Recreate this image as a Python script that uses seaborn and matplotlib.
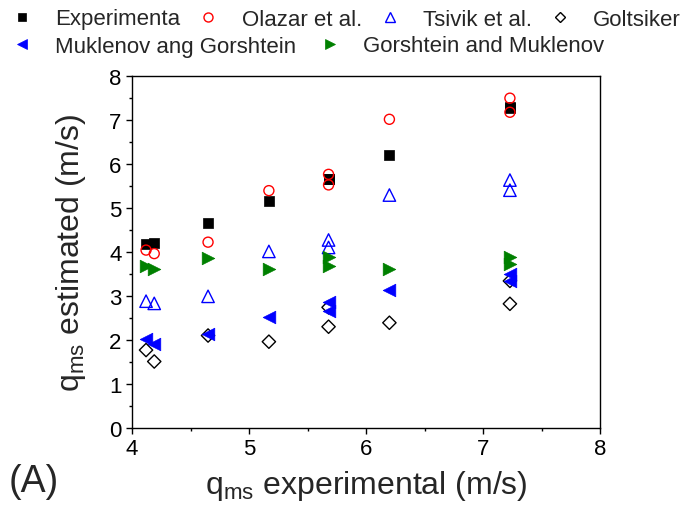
import matplotlib
matplotlib.use("Agg")
import matplotlib.pyplot as plt
from matplotlib.lines import Line2D
import seaborn as sns

# ---- data ----
x_experimental = [4.12, 4.19, 4.65, 5.17, 5.68, 5.68, 6.20, 7.23, 7.23]
experimenta = [4.17, 4.19, 4.65, 5.16, 5.65, 5.66, 6.20, 7.27, 7.30]
olazar = [4.04, 3.96, 4.22, 5.39, 5.76, 5.52, 7.01, 7.49, 7.17]
tsivik = [2.88, 2.83, 2.99, 4.01, 4.27, 4.10, 5.29, 5.63, 5.40]
goltsiker = [1.77, 1.51, 2.10, 1.96, 2.74, 2.30, 2.39, 3.34, 2.82]
muklenov_gorshtein = [2.02, 1.91, 2.13, 2.51, 2.85, 2.66, 3.14, 3.50, 3.34]
gorshtein_muklenov = [3.69, 3.61, 3.86, 3.61, 3.88, 3.69, 3.61, 3.88, 3.72]

series_names = ["Experimenta", "Olazar et al.", "Tsivik et al.", "Goltsiker",
                "Muklenov ang Gorshtein", "Gorshtein and Muklenov"]
series_values = [experimenta, olazar, tsivik, goltsiker,
                 muklenov_gorshtein, gorshtein_muklenov]
x_ticks = [4, 5, 6, 7, 8]
y_ticks = [0, 1, 2, 3, 4, 5, 6, 7, 8]

# ---- styles ----
styles = [
    dict(marker="s", s=58, facecolor="black", edgecolor="black", lw=0.5),
    dict(marker="o", s=52, facecolor="none", edgecolor="#FF0000", lw=1.0),
    dict(marker="^", s=80, facecolor="none", edgecolor="#0000FF", lw=1.0),
    dict(marker="D", s=46, facecolor="none", edgecolor="black", lw=1.0),
    dict(marker="<", s=82, facecolor="#0000FF", edgecolor="#0000FF", lw=0.5),
    dict(marker=">", s=82, facecolor="#008000", edgecolor="#008000", lw=0.5),
]

sns.set_theme(style="ticks")
plt.rcParams["font.family"] = ["Liberation Sans", "DejaVu Sans"]
plt.rcParams["mathtext.fontset"] = "custom"
plt.rcParams["mathtext.rm"] = "Liberation Sans"
plt.rcParams["mathtext.it"] = "Liberation Sans:italic"

fig = plt.figure(figsize=(6.89, 5.06), dpi=100)
ax = fig.add_axes([132 / 689, 77 / 506, 468 / 689, 352.3 / 506])

for name, vals, st in zip(series_names, series_values, styles):
    sns.scatterplot(x=x_experimental, y=vals, ax=ax, marker=st["marker"],
                    s=st["s"], color=st["edgecolor"], facecolors=st["facecolor"],
                    edgecolor=st["edgecolor"], linewidth=st["lw"], legend=False,
                    zorder=3)

ax.set_xlim(4, 8)
ax.set_ylim(0, 8)
ax.set_xticks(x_ticks)
ax.set_yticks(y_ticks)
ax.set_xticks([4.5, 5.5, 6.5, 7.5], minor=True)
ax.set_yticks([0.5, 1.5, 2.5, 3.5, 4.5, 5.5, 6.5, 7.5], minor=True)
ax.tick_params(axis="both", which="major", direction="out", length=4.5,
               width=1, labelsize=16, pad=3, colors="black")
ax.tick_params(axis="both", which="minor", direction="out", length=2.2,
               width=1, colors="black")
for sp in ax.spines.values():
    sp.set_visible(True)
    sp.set_linewidth(1.0)
    sp.set_color("black")

ax.set_xlabel(r"$\mathregular{q_{ms}}$ experimental (m/s)", fontsize=23, labelpad=6)
ax.set_ylabel(r"$\mathregular{q_{ms}}$ estimated (m/s)", fontsize=23, labelpad=15)

fig.text(9 / 689, 1 - 482 / 506, "(A)", fontsize=27, va="center", ha="left")

handles = []
for name, st in zip(series_names, styles):
    ms = {"s": 6.0, "o": 6.5, "^": 7.0, "D": 5.5, "<": 7.5, ">": 7.5}[st["marker"]]
    handles.append(Line2D([], [], linestyle="none", marker=st["marker"], markersize=ms,
                          markerfacecolor=st["facecolor"], markeredgecolor=st["edgecolor"],
                          markeredgewidth=st["lw"], label=name))

leg_kw = dict(frameon=False, fontsize=16, handlelength=1.0, handletextpad=1.0,
              columnspacing=0.75, borderpad=0, borderaxespad=0, loc="center left")
leg1 = fig.legend(handles=handles[:4], ncol=4,
                  bbox_to_anchor=(11 / 689, 1 - 20 / 506), **leg_kw)
leg2 = fig.legend(handles=handles[4:], ncol=2,
                  bbox_to_anchor=(11 / 689, 1 - 47 / 506),
                  **dict(leg_kw, columnspacing=1.0))

fig.savefig("out.png", dpi=100)
